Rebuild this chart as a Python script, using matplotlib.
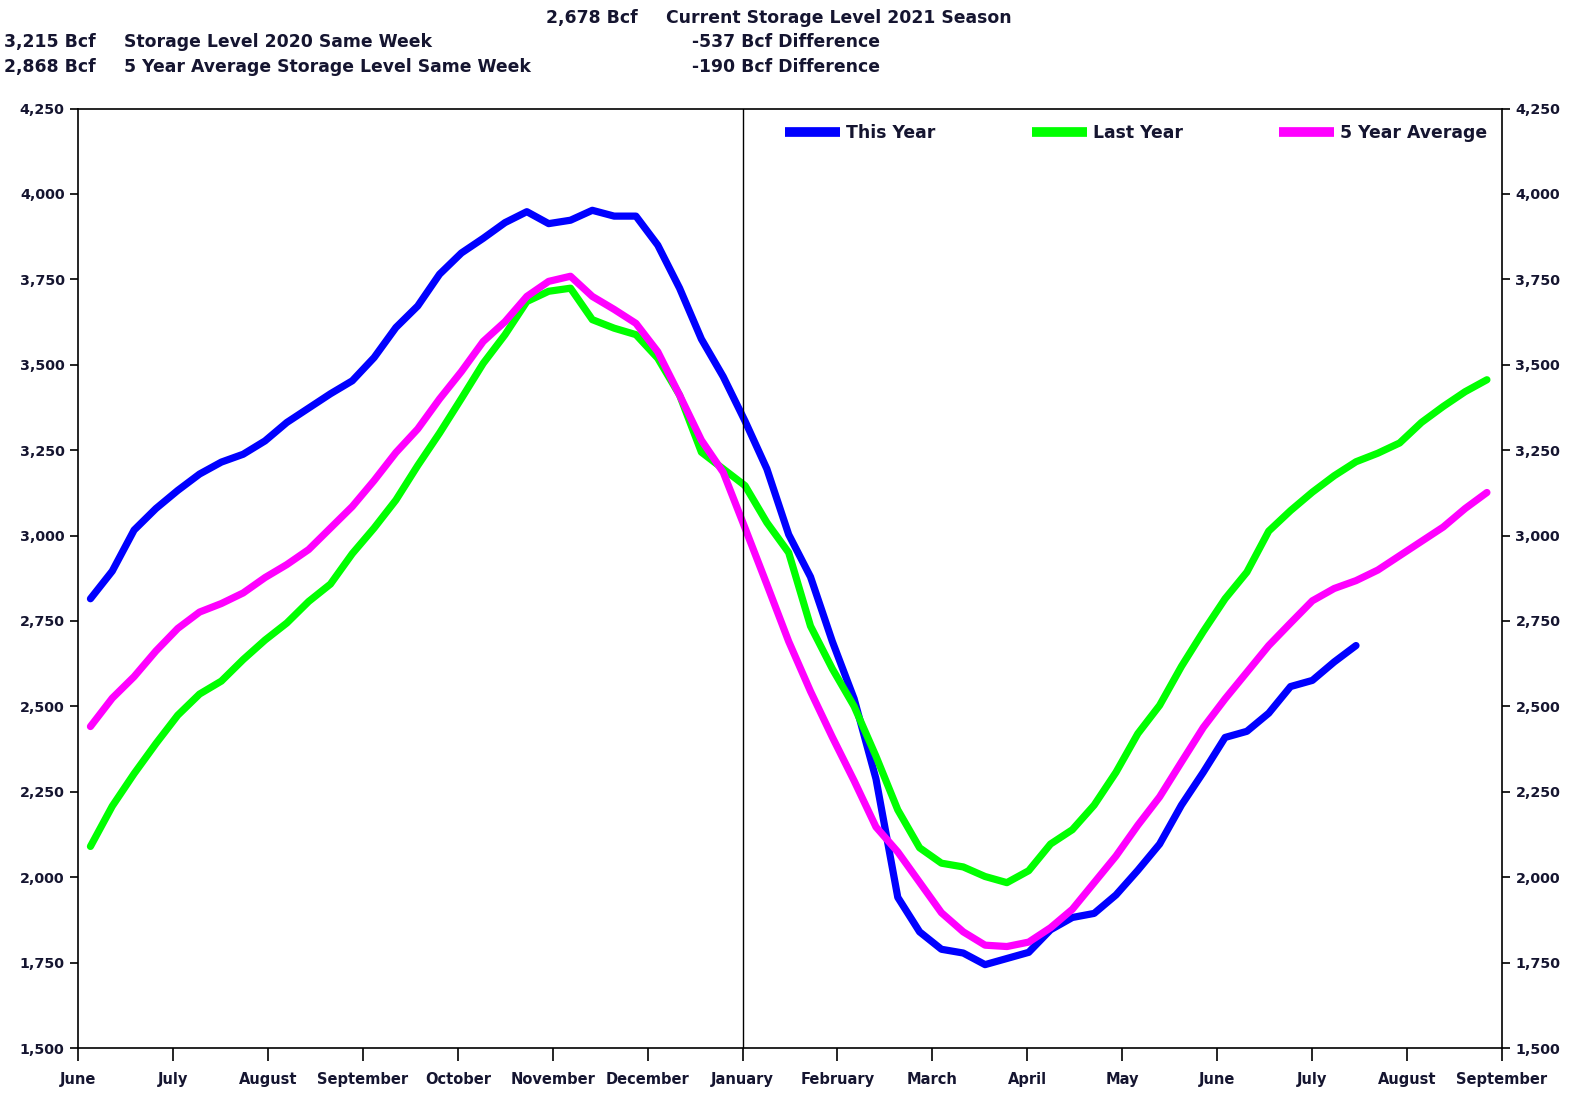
import numpy as np
import matplotlib
matplotlib.use('Agg')
import matplotlib.pyplot as plt
from matplotlib.ticker import FuncFormatter

# month labels along the bottom (equal spacing, June 2020 .. September 2021)
months = ['June', 'July', 'August', 'September', 'October', 'November', 'December',
          'January', 'February', 'March', 'April', 'May', 'June', 'July', 'August', 'September']

# weekly storage, Bcf
this_year = [2815, 2896, 3016, 3079, 3132, 3180, 3215, 3238, 3277, 3331,
             3373, 3415, 3453, 3521, 3609, 3672, 3765, 3827, 3870, 3916,
             3948, 3913, 3923, 3952, 3935, 3935, 3850, 3724, 3575, 3465,
             3335, 3195, 3003, 2879, 2690, 2522, 2288, 1941, 1840, 1789,
             1778, 1744, 1762, 1780, 1846, 1882, 1894, 1948, 2020, 2097,
             2211, 2307, 2409, 2427, 2480, 2558, 2576, 2630, 2678]
last_year = [2090, 2208, 2303, 2391, 2474, 2536, 2574, 2637, 2694, 2744,
             2807, 2858, 2947, 3022, 3104, 3205, 3300, 3401, 3504, 3588,
             3685, 3715, 3724, 3632, 3607, 3588, 3519, 3411, 3244, 3195,
             3146, 3038, 2950, 2735, 2610, 2500, 2354, 2197, 2086, 2041,
             2030, 2002, 1984, 2019, 2097, 2139, 2211, 2307, 2420, 2503,
             2617, 2719, 2815, 2893, 3013, 3073, 3127, 3175, 3216, 3241,
             3271, 3331, 3378, 3421, 3456]
five_year = [2441, 2524, 2587, 2662, 2728, 2776, 2801, 2832, 2877, 2915,
             2959, 3022, 3085, 3161, 3243, 3312, 3400, 3480, 3568, 3626,
             3700, 3744, 3759, 3700, 3662, 3621, 3538, 3411, 3279, 3185,
             3022, 2857, 2690, 2544, 2410, 2282, 2147, 2074, 1985, 1896,
             1840, 1801, 1797, 1810, 1852, 1906, 1984, 2062, 2152, 2235,
             2337, 2438, 2522, 2600, 2678, 2744, 2809, 2845, 2868, 2899,
             2941, 2983, 3025, 3079, 3126]

first_week = 0.127      # first report week, months after June 1
week = 12 / 52.18       # one week in month units

plt.rcParams['font.family'] = 'DejaVu Sans'
txt = '#151530'

fig = plt.figure(figsize=(15.76, 10.98), dpi=100)
ax = fig.add_axes([78.4/1576, 50/1098, 1423.2/1576, 939.5/1098])

def xs(series):
    return first_week + week*np.arange(len(series))

ax.plot(xs(this_year), this_year, color='#0000ff', lw=5.2, label='This Year',
        solid_capstyle='round', solid_joinstyle='round')
ax.plot(xs(last_year), last_year, color='#00ff00', lw=5.2, label='Last Year',
        solid_capstyle='round', solid_joinstyle='round')
ax.plot(xs(five_year), five_year, color='#ff00ff', lw=5.2, label='5 Year Average',
        solid_capstyle='round', solid_joinstyle='round')

ax.axvline(7, color='black', lw=1)  # January divider

ax.set_xlim(0, 15)
ax.set_ylim(1500, 4250)
ax.set_xticks(range(len(months)))
ax.set_xticklabels(months)
ax.set_yticks(np.arange(1500, 4251, 250))
ax.yaxis.set_major_formatter(FuncFormatter(lambda v, p: f'{int(v):,}'))

for s in ax.spines.values():
    s.set_linewidth(1.2)
ax.tick_params(axis='x', direction='out', length=9, width=1.2, pad=8.5,
               labelsize=10.5, labelcolor=txt)
ax.tick_params(axis='y', direction='out', length=6, width=1.2, pad=4,
               left=True, right=True, labelleft=True, labelright=True,
               labelsize=10.3, labelcolor=txt)
for lab in ax.get_xticklabels() + ax.get_yticklabels():
    lab.set_fontweight('bold')
for t in ax.yaxis.get_major_ticks():
    t.label2.set_fontweight('bold')

leg = ax.legend(loc='upper right', bbox_to_anchor=(0.990, 0.983), ncol=3,
                frameon=False, borderaxespad=0, borderpad=0,
                handlelength=3.2, handletextpad=0.35, columnspacing=5.6,
                prop={'weight': 'bold', 'size': 12.4})
for line in leg.get_lines():
    line.set_linewidth(7)
    line.set_solid_capstyle('butt')
for t in leg.get_texts():
    t.set_color(txt)

# header block
def head(x, y, s, ha='left'):
    fig.text(x/1576, 1 - y/1098, s, ha=ha, va='center', fontsize=12.4,
             fontweight='bold', color=txt)

head(638, 18, '2,678 Bcf', 'right')
head(666, 18, 'Current Storage Level 2021 Season')
head(95.5, 42.2, '3,215 Bcf', 'right')
head(123.6, 42.2, 'Storage Level 2020 Same Week')
head(691.5, 42.2, '-537 Bcf Difference')
head(95.5, 67.3, '2,868 Bcf', 'right')
head(123.6, 67.3, '5 Year Average Storage Level Same Week')
head(691.5, 67.3, '-190 Bcf Difference')

fig.savefig('out.png', dpi=100)
